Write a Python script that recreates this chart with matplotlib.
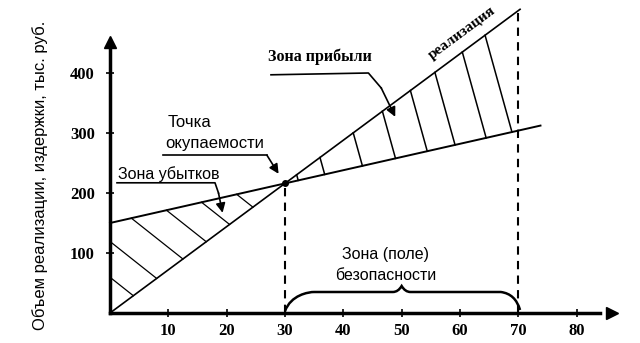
import matplotlib.pyplot as plt
from matplotlib.path import Path
from matplotlib.patches import PathPatch

# data
fixed_costs = 150
cost_slope = 2.2
price = 7.2
breakeven_x = 30
plan_x = 70
x_ticks = [10, 20, 30, 40, 50, 60, 70, 80]
y_ticks = [100, 200, 300, 400]
loss_hatch_x = [4, 8, 12.5, 16.5, 20.5, 24.5]       # where loss hatches hit the sales line
profit_hatch_x = [32, 36, 41.7, 46.7, 51.5, 55.7, 60.4, 64.3]  # where profit hatches leave the sales line

def sales(x):
    return price * x

def costs(x):
    return fixed_costs + cost_slope * x

fig = plt.figure(figsize=(6.4, 3.43), dpi=100)
ax = fig.add_axes([0, 0, 1, 1])
# pixel mapping: x=0 at px 110, 5.83 px/unit; y=0 at px 313, 0.6 px/unit
ax.set_xlim(-110 / 5.833, 530 / 5.833)
ax.set_ylim(-30 / 0.6, 313 / 0.6)

for s in ['top', 'right']:
    ax.spines[s].set_visible(False)
ax.spines['left'].set_position(('data', 0))
ax.spines['bottom'].set_position(('data', 0))
ax.spines['left'].set_bounds(0, 445)
ax.spines['bottom'].set_bounds(0, 84)
ax.spines['left'].set_linewidth(2.5)
ax.spines['bottom'].set_linewidth(2.5)
ax.plot([0], [452], marker='^', color='black', markersize=9, clip_on=False)
ax.plot([86], [0], marker='>', color='black', markersize=9, clip_on=False)

ax.set_xticks(x_ticks)
ax.set_yticks(y_ticks)
ax.tick_params(direction='inout', length=6, width=1.2, labelsize=12)
ax.tick_params(axis='x', pad=4)
ax.tick_params(axis='y', pad=8)
for lab in ax.get_xticklabels() + ax.get_yticklabels():
    lab.set_family('Liberation Serif')
    lab.set_fontweight('bold')

# main lines
ax.plot([0, 70.3], [sales(0), sales(70.3)], color='black', lw=1.2)
ax.plot([0, 73.8], [costs(0), costs(73.8)], color='black', lw=1.4)
ax.plot([breakeven_x], [sales(breakeven_x)], 'o', color='black', markersize=4)

# dashed verticals
ax.plot([breakeven_x, breakeven_x], [0, sales(breakeven_x)], color='black', lw=1.5, ls=(0, (4, 3)))
ax.plot([plan_x, plan_x], [0, sales(70.3)], color='black', lw=1.5, ls=(0, (4, 3)))

# loss zone hatching, direction dy/dx = -7.7
k = -7.7
for xe in loss_hatch_x:
    ye = sales(xe)
    x0 = (ye - k * xe - fixed_costs) / (cost_slope - k)
    x0 = max(x0, 0)
    y0 = ye + k * (x0 - xe)
    ax.plot([x0, xe], [y0, ye], color='black', lw=0.9)

# profit zone hatching, direction dy/dx = -35
k = -35
for xs in profit_hatch_x:
    ys = sales(xs)
    x1 = (ys - k * xs - fixed_costs) / (cost_slope - k)
    ax.plot([xs, x1], [ys, costs(x1)], color='black', lw=1.1)

# safety brace
verts = [(30, 3), (31, 30), (34, 35), (35, 35),
         (48.5, 35), (49.4, 35), (50, 45), (50.6, 35), (51.5, 35),
         (67, 35), (69.5, 32), (70.3, 5)]
codes = [Path.MOVETO, Path.CURVE4, Path.CURVE4, Path.CURVE4,
         Path.LINETO, Path.CURVE3, Path.CURVE3, Path.CURVE3, Path.CURVE3,
         Path.LINETO, Path.CURVE3, Path.CURVE3]
ax.add_patch(PathPatch(Path(verts, codes), fill=False, lw=1.8, color='black'))

# leaders
def leader(pts, lw=1.2):
    xs = [p[0] for p in pts]
    ys = [p[1] for p in pts]
    ax.plot(xs[:-1], ys[:-1], color='black', lw=lw)
    ax.annotate('', xy=pts[-1], xytext=pts[-2],
                arrowprops=dict(arrowstyle='-|>', color='black', lw=lw,
                                mutation_scale=14, shrinkA=0, shrinkB=0))

leader([(27.6, 397), (44.3, 400), (46.5, 375), (48.9, 327)])
leader([(9.1, 263), (26.9, 263), (28.9, 232)])
leader([(1.2, 217), (18, 217), (18.6, 200), (19.3, 167)])

sans = 'Liberation Sans'
ax.text(36, 427, 'Зона прибыли', family='Liberation Serif', fontweight='bold',
        fontsize=11.5, ha='center', va='center')
ax.text(13.7, 317, 'Точка', family=sans, fontsize=12, ha='center', va='center')
ax.text(18, 282, 'окупаемости', family=sans, fontsize=12, ha='center', va='center')
ax.text(10, 232, 'Зона убытков', family=sans, fontsize=11.5, ha='center', va='center')
ax.text(47.2, 97, 'Зона (поле)', family=sans, fontsize=11.5, ha='center', va='center')
ax.text(47.2, 62, 'безопасности', family=sans, fontsize=11.5, ha='center', va='center')
ax.text(60.3, 466, 'реализация', family='Liberation Serif', fontweight='bold',
        fontsize=11, ha='center', va='center', rotation=36.5)

fig.text(40 / 640, 1 - 175 / 343, 'Объем реализации, издержки, тыс. руб.',
         family=sans, fontsize=12, rotation=90, ha='center', va='center')

fig.savefig('out.png', dpi=100)
